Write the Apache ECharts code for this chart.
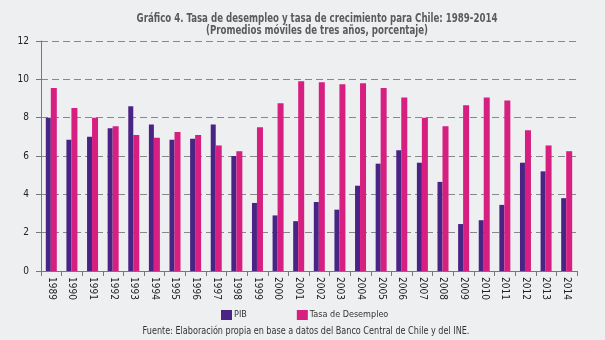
<!DOCTYPE html>
<html>
<head>
<meta charset="utf-8">
<script src="https://cdn.jsdelivr.net/npm/echarts@6/dist/echarts.min.js"></script>
<style>
  html, body { margin: 0; padding: 0; background: #eeeff1; }
  #chart { width: 605px; height: 340px; }
</style>
</head>
<body>
<div id="chart"></div>
<script>
// Años (categorías del eje X)
const years = ['1989','1990','1991','1992','1993','1994','1995','1996','1997','1998','1999','2000','2001',
               '2002','2003','2004','2005','2006','2007','2008','2009','2010','2011','2012','2013','2014'];

// Crecimiento del PIB (promedio móvil de tres años, %)
const pib = [8.0, 6.85, 7.0, 7.45, 8.6, 7.65, 6.85, 6.9, 7.65, 6.0, 3.55, 2.9, 2.6,
             3.6, 3.2, 4.45, 5.6, 6.3, 5.65, 4.65, 2.45, 2.65, 3.45, 5.65, 5.2, 3.8];

// Tasa de desempleo (promedio móvil de tres años, %)
const desempleo = [9.55, 8.5, 8.0, 7.55, 7.1, 6.95, 7.25, 7.1, 6.55, 6.25, 7.5, 8.75, 9.9,
                   9.85, 9.75, 9.8, 9.55, 9.05, 8.0, 7.55, 8.65, 9.05, 8.9, 7.35, 6.55, 6.25];

// Marcas del eje Y
const yTicks = { min: 0, max: 12, interval: 2 };

const titleLines = [
  'Gráfico 4. Tasa de desempleo y tasa de crecimiento para Chile: 1989-2014',
  '(Promedios móviles de tres años, porcentaje)'
];
const sourceNote = 'Fuente: Elaboración propia en base a datos del Banco Central de Chile y del INE.';

const font = '"DejaVu Sans Condensed", "Liberation Sans Narrow", "Open Sans", sans-serif';
const chart = echarts.init(document.getElementById('chart'));

// Texto centrado y comprimido horizontalmente (tipografía condensada)
function narrowText(text, cx, cy, size, weight, color, squeeze) {
  return {
    type: 'text', x: cx, y: cy, originX: 0, originY: 0, scaleX: squeeze,
    style: {
      text: text, fill: color, align: 'center', verticalAlign: 'middle',
      font: weight + ' ' + size + 'px ' + font
    },
    silent: true
  };
}

chart.setOption({
  backgroundColor: '#eeeff1',
  animation: false,
  textStyle: { fontFamily: font },
  graphic: [
    narrowText(titleLines[0], 317, 19, 12, 'bold', '#5b5b5b', 0.8),
    narrowText(titleLines[1], 317, 31, 12, 'bold', '#5b5b5b', 0.8),
    narrowText(sourceNote, 306, 331, 10, 'normal', '#333', 0.9)
  ],
  legend: {
    left: 216, top: 305,
    itemWidth: 11, itemHeight: 10, itemGap: 50,
    icon: 'rect',
    textStyle: { fontFamily: font, fontSize: 9, color: '#333', padding: [0, 0, 0, -3] },
    data: ['PIB', 'Tasa de Desempleo']
  },
  grid: { left: 41, right: 28, top: 41, bottom: 69, containLabel: false },
  xAxis: {
    type: 'category',
    data: years,
    axisLine: { lineStyle: { color: '#777', width: 1 } },
    axisTick: { show: true, length: 5, lineStyle: { color: '#777' } },
    axisLabel: { rotate: -90, fontSize: 10, color: '#222', margin: 6, interval: 0, fontFamily: font }
  },
  yAxis: {
    type: 'value',
    min: yTicks.min, max: yTicks.max, interval: yTicks.interval,
    axisLine: { show: true, lineStyle: { color: '#777', width: 1 } },
    axisTick: { show: true, length: 5, lineStyle: { color: '#777' } },
    axisLabel: { fontSize: 10, color: '#222', margin: 12, fontFamily: font },
    splitLine: { show: true, lineStyle: { color: '#888', type: [7, 4], width: 1 } }
  },
  series: [{
    name: 'PIB', type: 'bar', data: pib,
    barWidth: 5, barGap: '0%',
    itemStyle: { color: '#4a2485' }
  }, {
    name: 'Tasa de Desempleo', type: 'bar', data: desempleo,
    barWidth: 6, barGap: '0%',
    itemStyle: { color: '#d61f80' }
  }]
});
</script>
</body>
</html>
